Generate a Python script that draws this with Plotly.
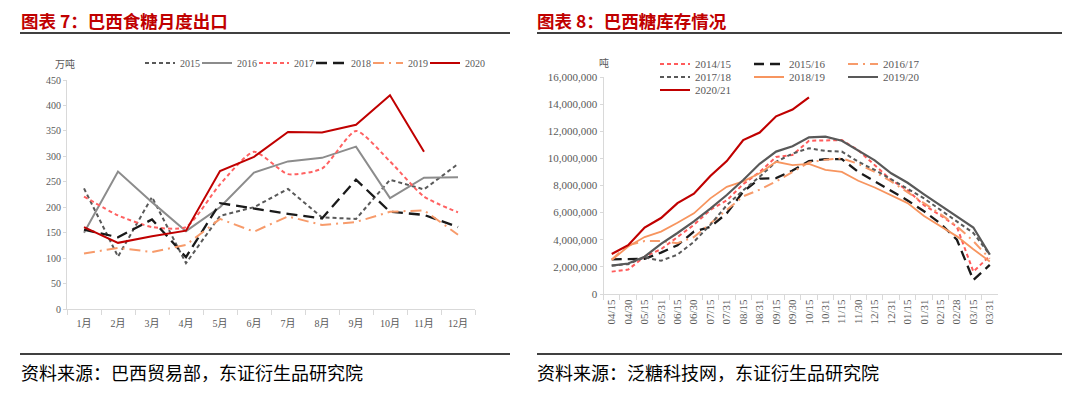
import plotly.graph_objects as go

# ---------------- Left chart: Brazil monthly sugar exports (万吨) ----------------
months = ["1月", "2月", "3月", "4月", "5月", "6月", "7月", "8月", "9月", "10月", "11月", "12月"]
exp_2015 = [237, 103, 220, 90, 183, 200, 236, 180, 177, 254, 235, 285]
exp_2016 = [150, 270, 210, 153, 200, 268, 290, 297, 319, 218, 258, 259]
exp_2017 = [221, 184, 161, 161, 245, 309, 265, 276, 350, 290, 221, 190]
exp_2018 = [156, 141, 176, 102, 208, 197, 187, 178, 254, 191, 185, 161]
exp_2019 = [109, 120, 112, 126, 177, 152, 182, 165, 171, 191, 194, 146]
exp_2020 = [161, 130, 143, 154, 271, 299, 348, 347, 362, 420, 309, None]

# ---------------- Right chart: Brazil sugar stocks (吨) ----------------
periods = ["04/15", "04/30", "05/15", "05/31", "06/15", "06/30", "07/15", "07/31",
           "08/15", "08/31", "09/15", "09/30", "10/15", "10/31", "11/15", "11/30",
           "12/15", "12/31", "01/15", "01/31", "02/15", "02/28", "03/15", "03/31"]
stk_1415 = [1650000, 1800000, 2750000, 3300000, 4200000, 5100000, 6200000, 6900000,
            8100000, 9000000, 10100000, 10250000, 11300000, 11300000, 11350000, 10600000,
            9500000, 8400000, 7650000, 6550000, 5800000, 4950000, 1650000, 2800000]
stk_1516 = [2550000, 2550000, 2600000, 3050000, 3600000, 4600000, 4950000, 5950000,
            7550000, 8500000, 8550000, 9100000, 9800000, 9950000, 9950000, 9000000,
            8300000, 7550000, 6900000, 6100000, 5200000, 4000000, 1030000, 2150000]
stk_1617 = [2550000, 3600000, 3900000, 3900000, 3750000, 4200000, 5200000, 6200000,
            7200000, 7700000, 8300000, 9000000, 9700000, 9900000, 10000000, 9600000,
            9000000, 8300000, 7500000, 6700000, 5900000, 5000000, 3900000, 2600000]
stk_1718 = [2100000, 2200000, 2700000, 2450000, 2900000, 3850000, 5100000, 6550000,
            7650000, 8650000, 9750000, 10350000, 10750000, 10550000, 10500000, 9750000,
            9150000, 8450000, 7800000, 7050000, 6200000, 5350000, 4500000, 2900000]
stk_1819 = [2500000, 3500000, 4200000, 4600000, 5250000, 5950000, 7050000, 7900000,
            8300000, 8900000, 9750000, 9500000, 9600000, 9150000, 9000000, 8350000,
            7850000, 7300000, 6700000, 5750000, 5000000, 4250000, 3300000, 2400000]
stk_1920 = [2090000, 2250000, 2750000, 3700000, 4500000, 5350000, 6300000, 7300000,
            8400000, 9600000, 10500000, 10900000, 11550000, 11600000, 11300000, 10600000,
            9850000, 8900000, 8200000, 7350000, 6550000, 5700000, 4900000, 2900000]
stk_2021 = [2950000, 3600000, 4900000, 5600000, 6700000, 7400000, 8700000, 9800000,
            11350000, 11900000, 13100000, 13600000, 14500000, None, None, None,
            None, None, None, None, None, None, None, None]

W, H = 1080, 395
OFF = 8  # the page body adds an 8px margin around the figure
px = lambda x: (x - OFF) / W
py = lambda y: 1 - (y - OFF) / H

SERIF = "Liberation Serif, Noto Sans CJK SC"
CJK = "Noto Sans CJK SC"
TICK = "#595959"
AXIS = "#d9d9d9"

fig = go.Figure()

left_series = [
    ("2015", exp_2015, "#595959", "4px,3px", 2),
    ("2016", exp_2016, "#8c8c8c", "solid", 2),
    ("2017", exp_2017, "#ff6161", "4px,3px", 2),
    ("2018", exp_2018, "#1a1a1a", "11px,6px", 2.3),
    ("2019", exp_2019, "#f79b6b", "11px,5px,2px,5px", 2),
    ("2020", exp_2020, "#c00000", "solid", 2),
]
left_legend_ids = ["legend", "legend5", "legend6", "legend7", "legend8", "legend9"]
for (name, vals, col, dash, w), lg in zip(left_series, left_legend_ids):
    fig.add_trace(go.Scatter(
        x=months, y=vals, name=name, mode="lines",
        line=dict(color=col, dash=dash, width=w,
                  shape="spline" if name == "2017" else "linear", smoothing=0.6),
        xaxis="x", yaxis="y", legend=lg, connectgaps=False))

right_series = [
    ("2014/15", stk_1415, "#ff5b5b", "4px,3px", 2, "legend2"),
    ("2015/16", stk_1516, "#1a1a1a", "10px,6px", 2.3, "legend2"),
    ("2016/17", stk_1617, "#f79b6b", "10px,5px,2px,5px", 2, "legend2"),
    ("2017/18", stk_1718, "#595959", "4px,3px", 2, "legend3"),
    ("2018/19", stk_1819, "#f7955f", "solid", 1.8, "legend3"),
    ("2019/20", stk_1920, "#595959", "solid", 2.2, "legend3"),
    ("2020/21", stk_2021, "#c00000", "solid", 2.2, "legend4"),
]
for name, vals, col, dash, w, lg in right_series:
    fig.add_trace(go.Scatter(
        x=periods, y=vals, name=name, mode="lines",
        line=dict(color=col, dash=dash, width=w),
        xaxis="x2", yaxis="y2", legend=lg, connectgaps=False))

axis_common = dict(showline=True, linecolor=AXIS, linewidth=1, showgrid=False,
                   zeroline=False, ticks="outside", tickcolor=AXIS, automargin=False,
                   fixedrange=True)

def legend_cfg(x, y, ew, size):
    return dict(orientation="h", x=px(x), y=py(y), xanchor="left", yanchor="middle",
                entrywidth=ew, entrywidthmode="pixels", itemwidth=30,
                font=dict(family=SERIF, size=size, color=TICK),
                bgcolor="rgba(0,0,0,0)", borderwidth=0, tracegroupgap=0)

legends = {}
for i, lg in enumerate(left_legend_ids):
    legends[lg] = legend_cfg(140 + 57 * i, 63, 30, 10)
legends["legend2"] = legend_cfg(655, 64, 49, 11)
legends["legend3"] = legend_cfg(655, 77, 49, 11)
legends["legend4"] = legend_cfg(655, 90, 49, 11)

fig.update_layout(
    width=W, height=H, margin=dict(l=0, r=0, t=0, b=0),
    paper_bgcolor="white", plot_bgcolor="white",
    xaxis=dict(domain=[px(67), px(475)], anchor="y", type="category",
               range=[-0.5, len(months) - 0.5],
               tickson="boundaries", ticklen=5, ticklabelstandoff=5,
               tickfont=dict(family=SERIF, size=10, color=TICK), **axis_common),
    yaxis=dict(domain=[py(309), py(80)], anchor="x", range=[0, 450], dtick=50,
               ticklen=3, tickfont=dict(family=SERIF, size=10, color=TICK), **axis_common),
    xaxis2=dict(domain=[px(603.5), px(998)], anchor="y2", type="category",
                range=[-0.5, len(periods) - 0.5],
                tickson="boundaries", ticklen=5, tickangle=-90,
                tickfont=dict(family=SERIF, size=11, color=TICK), **axis_common),
    yaxis2=dict(domain=[py(294), py(77)], anchor="x2", range=[0, 16000000], dtick=2000000,
                tickformat=",d", ticklen=3,
                tickfont=dict(family=SERIF, size=11, color=TICK), **axis_common),
    showlegend=True,
    **legends,
)

# titles, rules and source notes
ann = [
    dict(text="<b>图表 7：巴西食糖月度出口</b>", x=px(20), y=py(20), font=dict(family=CJK, size=17.5, color="#c00000")),
    dict(text="<b>图表 8：巴西糖库存情况</b>", x=px(536), y=py(20), font=dict(family=CJK, size=17.5, color="#c00000")),
    dict(text="资料来源：巴西贸易部，东证衍生品研究院", x=px(20), y=py(372), font=dict(family=CJK, size=18, color="#000000")),
    dict(text="资料来源：泛糖科技网，东证衍生品研究院", x=px(536), y=py(372), font=dict(family=CJK, size=18, color="#000000")),
    dict(text="万吨", x=px(54), y=py(64), font=dict(family=CJK, size=10, color=TICK)),
    dict(text="吨", x=px(598), y=py(63), font=dict(family=CJK, size=10, color=TICK)),
]
for a in ann:
    fig.add_annotation(xref="paper", yref="paper", xanchor="left", yanchor="middle",
                       showarrow=False, borderpad=0, **a)

for x0, x1, y in [(20, 510, 33), (537, 1062, 33), (20, 510, 354), (537, 1062, 354)]:
    fig.add_shape(type="line", xref="paper", yref="paper", x0=px(x0), x1=px(x1),
                  y0=py(y), y1=py(y), line=dict(color="#000000", width=1.5))

fig.write_html("out.html")
